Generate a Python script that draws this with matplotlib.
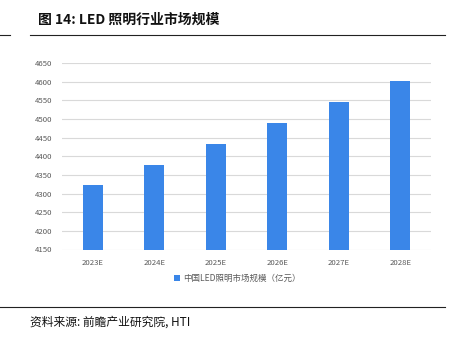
import matplotlib
matplotlib.use("Agg")
import matplotlib.pyplot as plt
from matplotlib.lines import Line2D

plt.rcParams['font.family'] = ['Noto Sans CJK SC', 'DejaVu Sans']

categories = ["2023E", "2024E", "2025E", "2026E", "2027E", "2028E"]
values = [4323, 4376, 4433, 4488, 4545, 4602]
yticks = list(range(4150, 4651, 50))
series_name = "中国LED照明市场规模（亿元）"
title = "图 14: LED 照明行业市场规模"
source = "资料来源: 前瞻产业研究院, HTI"

W, H = 452, 342
fig = plt.figure(figsize=(W/100, H/100), dpi=100)
ax = fig.add_axes([62/W, 1-249.5/H, 369/W, 186.5/H])

bar_color = "#3a86e8"
ax.bar(range(len(categories)), values, width=0.33, color=bar_color, zorder=3,
       label=series_name)
ax.set_ylim(4150, 4650)
ax.set_xlim(-0.5, len(categories)-0.5)
ax.set_yticks(yticks)
ax.set_xticks(range(len(categories)))
ax.set_xticklabels(categories)
ax.grid(axis='y', color='#d9d9d9', linewidth=0.8, zorder=0)
for s in ax.spines.values():
    s.set_visible(False)
ax.tick_params(axis='both', length=0, labelsize=5.6, colors='#595959', pad=7)
ax.tick_params(axis='x', pad=7)

leg = fig.legend(loc='center', bbox_to_anchor=(237/W, 1-278/H), frameon=False,
                 fontsize=6.1, handlelength=0.7, handleheight=0.7,
                 handletextpad=0.4, labelcolor='#595959')

fig.text(38/W, 1-20/H, title, fontsize=10, fontweight='bold', va='center',
         ha='left', color='#111111')
fig.add_artist(Line2D([30/W, 445/W], [1-35/H, 1-35/H], color='#222222', linewidth=0.8))
fig.add_artist(Line2D([0, 10/W], [1-35/H, 1-35/H], color='#222222', linewidth=0.8))
fig.add_artist(Line2D([0, 445/W], [1-307/H, 1-307/H], color='#222222', linewidth=0.8))
fig.text(30/W, 1-322/H, source, fontsize=8.5, va='center', ha='left', color='#111111')

fig.savefig("out.png", dpi=100)
